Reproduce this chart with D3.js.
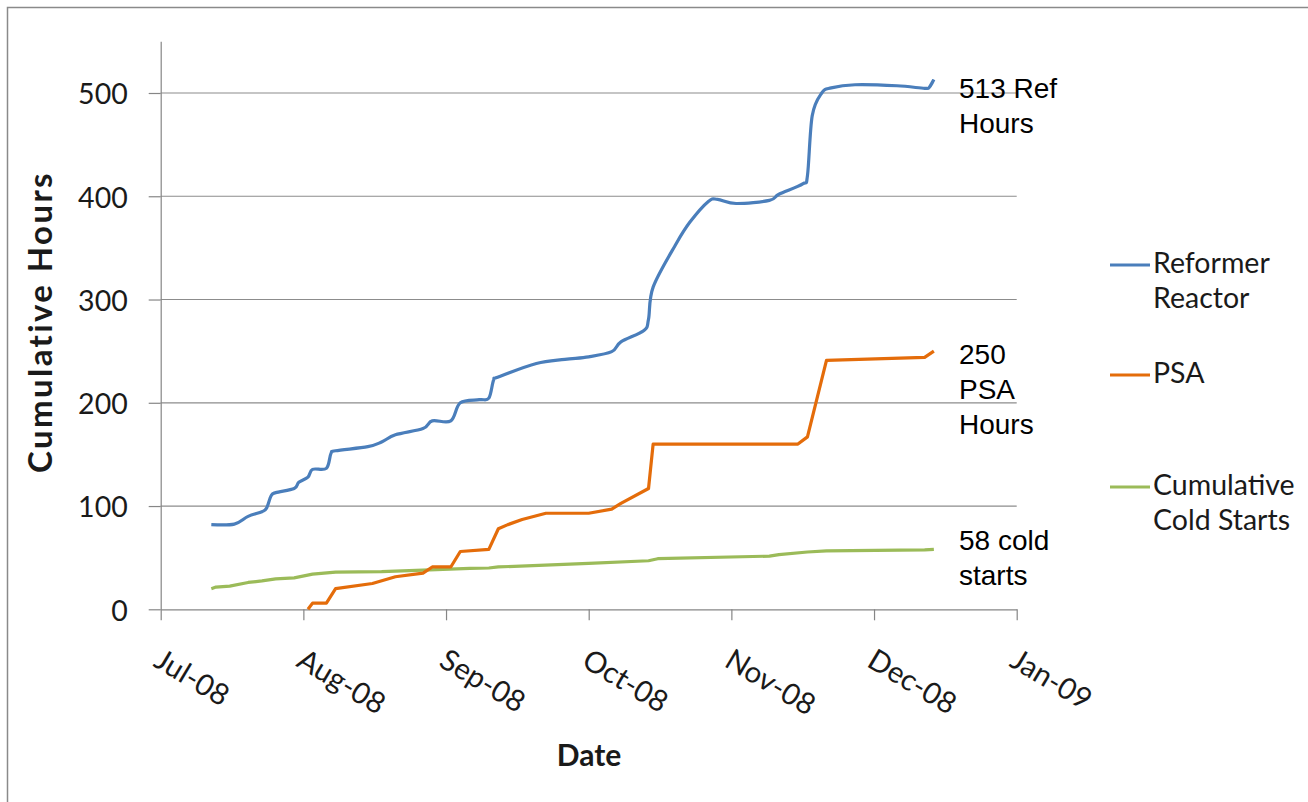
<!DOCTYPE html>
<html>
<head>
<meta charset="utf-8">
<script src="https://cdn.jsdelivr.net/npm/d3@7"></script>
<style>
  body { margin: 0; background: #fff; }
  svg { display: block; }
</style>
</head>
<body>
<svg id="chart" width="1308" height="802"></svg>
<script>
// Month tick labels along the date axis
const monthLabels = ["Jul-08", "Aug-08", "Sep-08", "Oct-08", "Nov-08", "Dec-08", "Jan-09"];
const yTicks = [0, 100, 200, 300, 400, 500];

// Reformer reactor cumulative hours
const reformerDates = ["2008-07-12","2008-07-17","2008-07-20","2008-07-23","2008-07-24","2008-07-25","2008-07-26","2008-07-30","2008-07-31",
  "2008-08-02","2008-08-03","2008-08-06","2008-08-07","2008-08-08","2008-08-15","2008-08-18","2008-08-21","2008-08-27","2008-08-29",
  "2008-09-02","2008-09-04","2008-09-08","2008-09-10","2008-09-11","2008-09-12","2008-09-20","2008-09-26",
  "2008-10-01","2008-10-06","2008-10-08","2008-10-13","2008-10-14","2008-10-15","2008-10-20","2008-10-23","2008-10-27","2008-10-29",
  "2008-11-02","2008-11-09","2008-11-11","2008-11-16","2008-11-17","2008-11-18","2008-11-20","2008-11-22","2008-11-27",
  "2008-12-06","2008-12-12","2008-12-13","2008-12-14"];
const reformerHours = [82, 82.5, 90, 94.5, 98, 110, 113, 117, 123,
  128, 135.5, 136.5, 151, 153.5, 157.5, 162, 169, 175, 182.5,
  182.5, 200, 203, 204.5, 222, 225, 238, 242,
  244.5, 249.5, 259, 270, 281, 312, 354, 375, 395, 397,
  393, 396, 402, 412, 420, 478, 500, 505, 508,
  507, 504.5, 505.5, 513];

// PSA cumulative hours
const psaDates = ["2008-08-02","2008-08-03","2008-08-06","2008-08-08","2008-08-16","2008-08-21","2008-08-27","2008-08-29",
  "2008-09-02","2008-09-04","2008-09-10","2008-09-12","2008-09-14","2008-09-17","2008-09-22",
  "2008-10-01","2008-10-06","2008-10-08","2008-10-14","2008-10-15",
  "2008-11-15","2008-11-17","2008-11-21","2008-12-12","2008-12-14"];
const psaHours = [0, 6, 6, 20, 25, 31.5, 35, 41,
  41, 56, 58, 78, 82, 87, 93,
  93, 97, 102.5, 117, 160,
  160, 167, 241, 244, 250];

// Cumulative cold starts
const coldDates = ["2008-07-12","2008-07-13","2008-07-16","2008-07-20","2008-07-23","2008-07-26","2008-07-30",
  "2008-08-03","2008-08-08","2008-08-18","2008-08-27",
  "2008-09-06","2008-09-10","2008-09-12",
  "2008-10-01","2008-10-14","2008-10-16",
  "2008-11-09","2008-11-11","2008-11-17","2008-11-21","2008-12-12","2008-12-14"];
const coldStarts = [20, 21.5, 22.5, 26, 27.5, 29.5, 30.5,
  34, 36, 36.5, 38,
  39.7, 40, 41,
  44.5, 47, 49,
  51.5, 53, 55.5, 56.5, 57.5, 58];

const seriesNames = ["Reformer Reactor", "PSA", "Cumulative Cold Starts"];
const seriesColors = ["#4a7ebb", "#e46c0a", "#9bbb59"];

const svg = d3.select("#chart");
const plot = { left: 160.7, right: 1016.7, bottom: 609.3 };
const uiFont = "Lato, 'Open Sans', sans-serif";

// Each month gets an equal share of the axis
function monthPos(s) {
  const [yr, m, d] = s.split("-").map(Number);
  const dim = new Date(yr, m, 0).getDate();
  return (yr - 2008) * 12 + (m - 7) + (d - 1) / dim;
}

const x = d3.scaleLinear().domain([0, 6]).range([plot.left, plot.right]);
const y = d3.scaleLinear().domain([0, 550]).range([plot.bottom, plot.bottom - 550 * 1.0326]);

// Outer chart frame
svg.append("rect")
  .attr("x", 7.5).attr("y", 7.5)
  .attr("width", 1330).attr("height", 830)
  .attr("fill", "#fff").attr("stroke", "#8a8a8a").attr("stroke-width", 1.5);

// Horizontal gridlines
svg.append("g")
  .selectAll("line")
  .data(yTicks.filter(v => v > 0))
  .join("line")
  .attr("x1", plot.left).attr("x2", plot.right)
  .attr("y1", d => y(d)).attr("y2", d => y(d))
  .attr("stroke", "#8c8c8c").attr("stroke-width", 1.2);

// Y axis
const yAxis = svg.append("g")
  .attr("transform", `translate(${plot.left},0)`)
  .call(d3.axisLeft(y).tickValues(yTicks).tickSize(12).tickPadding(21).tickSizeOuter(0));
yAxis.select(".domain").attr("stroke", "#868686").attr("stroke-width", 1.2);
yAxis.selectAll(".tick line").attr("stroke", "#868686").attr("stroke-width", 1.2);
yAxis.selectAll(".tick text")
  .attr("font-family", uiFont)
  .attr("font-size", 28.5).attr("fill", "#1a1a1a").attr("dy", "0.38em");

// X axis
const xAxis = svg.append("g")
  .attr("transform", `translate(0,${plot.bottom})`)
  .call(d3.axisBottom(x).tickValues(d3.range(7)).tickFormat(i => monthLabels[i]).tickSize(11).tickSizeOuter(0));
xAxis.select(".domain").attr("stroke", "#868686").attr("stroke-width", 1.2);
xAxis.selectAll(".tick line").attr("stroke", "#868686").attr("stroke-width", 1.2);
xAxis.selectAll(".tick text")
  .attr("font-family", uiFont)
  .attr("font-size", 29.5).attr("fill", "#1a1a1a")
  .attr("text-anchor", "start")
  .attr("y", 0).attr("dy", "0.72em")
  .attr("transform", "translate(2,38) rotate(31)");

// Axis titles
svg.append("text")
  .attr("x", 589).attr("y", 766)
  .attr("text-anchor", "middle")
  .attr("font-family", uiFont)
  .attr("font-weight", "bold").attr("font-size", 30).attr("fill", "#1a1a1a")
  .text("Date");
svg.append("text")
  .attr("transform", "translate(52,322) rotate(-90)")
  .attr("text-anchor", "middle")
  .attr("font-family", uiFont)
  .attr("font-weight", "bold").attr("font-size", 33).attr("letter-spacing", 2.4).attr("fill", "#1a1a1a")
  .text("Cumulative Hours");

// Series lines
const toPoints = (dates, vals) => dates.map((d, i) => [x(monthPos(d)), y(vals[i])]);
const smooth = d3.line().curve(d3.curveCardinal.tension(0));
const straight = d3.line();

svg.append("path")
  .attr("d", straight(toPoints(coldDates, coldStarts)))
  .attr("fill", "none").attr("stroke", seriesColors[2]).attr("stroke-width", 3.2)
  .attr("stroke-linejoin", "round");
svg.append("path")
  .attr("d", straight(toPoints(psaDates, psaHours)))
  .attr("fill", "none").attr("stroke", seriesColors[1]).attr("stroke-width", 3.2)
  .attr("stroke-linejoin", "round");
svg.append("path")
  .attr("d", smooth(toPoints(reformerDates, reformerHours)))
  .attr("fill", "none").attr("stroke", seriesColors[0]).attr("stroke-width", 3.2)
  .attr("stroke-linejoin", "round");

// End-of-line annotations
const notes = [
  { lines: [`${reformerHours[reformerHours.length - 1]} Ref`, "Hours"], y: 98 },
  { lines: [`${psaHours[psaHours.length - 1]}`, "PSA", "Hours"], y: 364 },
  { lines: [`${coldStarts[coldStarts.length - 1]} cold`, "starts"], y: 550 }
];
notes.forEach(n => {
  const t = svg.append("text")
    .attr("font-family", "'Liberation Sans', Arial, sans-serif")
    .attr("font-size", 28).attr("fill", "#000");
  n.lines.forEach((s, i) => {
    t.append("tspan").attr("x", 959).attr("y", n.y + i * 34.8).text(s);
  });
});

// Legend
const legend = [
  { lines: ["Reformer", "Reactor"], y: 273 },
  { lines: ["PSA"], y: 383 },
  { lines: ["Cumulative", "Cold Starts"], y: 495 }
];
legend.forEach((l, k) => {
  svg.append("line")
    .attr("x1", 1110).attr("x2", 1150)
    .attr("y1", l.y - 8).attr("y2", l.y - 8)
    .attr("stroke", seriesColors[k]).attr("stroke-width", 3.2);
  const t = svg.append("text")
    .attr("font-family", uiFont)
    .attr("font-size", 28.5).attr("fill", "#1a1a1a");
  l.lines.forEach((s, i) => {
    t.append("tspan").attr("x", 1153).attr("y", l.y + i * 35).text(s);
  });
});
</script>
</body>
</html>
